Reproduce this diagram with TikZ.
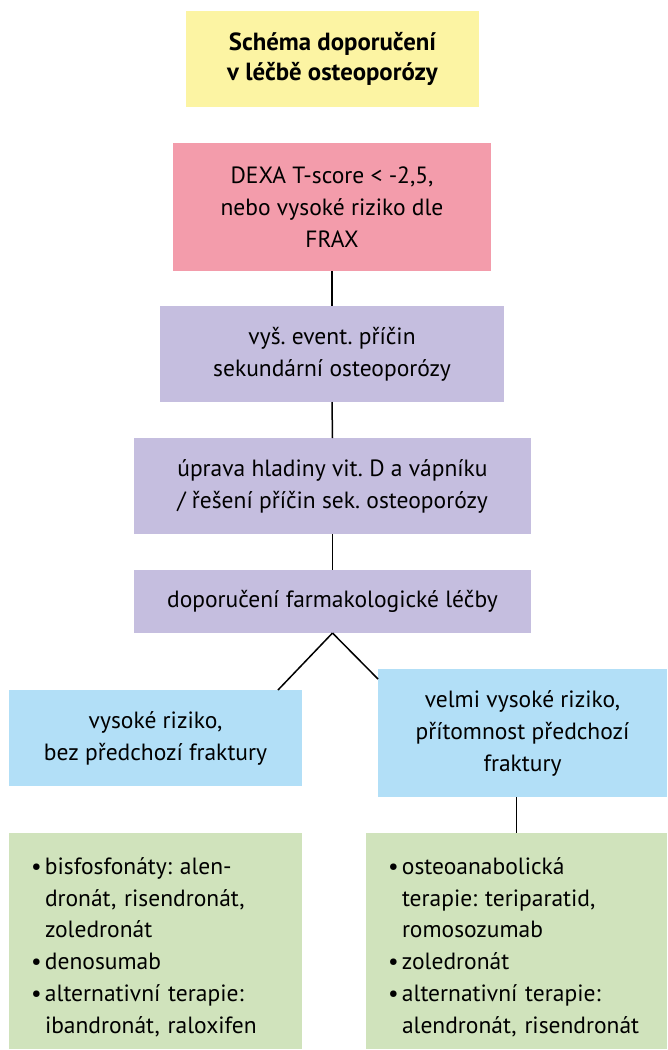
\documentclass[tikz,border=0pt]{standalone}
\usepackage{fontspec}
\setmainfont{PT Sans}
\frenchspacing
\usetikzlibrary{calc}
\definecolor{titlefill}{HTML}{FCF4A3}
\definecolor{dexafill}{HTML}{F39CAB}
\definecolor{stepfill}{HTML}{C5BEDF}
\definecolor{riskfill}{HTML}{B2DFF7}
\definecolor{drugfill}{HTML}{D0E3BC}
\newcommand{\bul}{\makebox[14pt][l]{\textbullet}}
\newcommand{\ind}{\hspace*{14pt}}
\begin{document}
\begin{tikzpicture}[x=1pt,y=-1pt]
\tikzset{
  every node/.style={inner sep=0pt, outer sep=0pt},
  box/.style={rectangle, align=center, font=\fontsize{23.5}{32}\selectfont},
  listbox/.style={rectangle, align=left, text width=#1, text height=29pt, font=\fontsize{23.5}{31.8}\selectfont},
  link/.style={black, line width=1.5pt}
}
\useasboundingbox (0,0) rectangle (667,1050);
\node [box, fill=titlefill, minimum width=293pt, minimum height=96pt, font=\fontsize{24.8}{30}\selectfont\bfseries] (title) at (332.5,59) {Schéma doporučení\\v léčbě osteoporózy};
\node [box, fill=dexafill, minimum width=318pt, minimum height=128pt] (dexa) at (332,207) {DEXA T-score < -2,5,\\nebo vysoké riziko dle\\FRAX};
\node [box, fill=stepfill, minimum width=344pt, minimum height=96pt] (cause) at (332,354) {vyš. event. příčin\\sekundární osteoporózy};
\node [box, fill=stepfill, minimum width=397pt, minimum height=96pt] (fix) at (332.5,486) {úprava hladiny vit. D a vápníku\\/ řešení příčin sek. osteoporózy};
\node [box, fill=stepfill, minimum width=397pt, minimum height=63pt] (pharm) at (332.5,601.5) {doporučení farmakologické léčby};
\node [box, fill=riskfill, minimum width=293pt, minimum height=96pt] (high) at (155.5,738) {vysoké riziko,\\bez předchozí fraktury};
\node [box, fill=riskfill, minimum width=289pt, minimum height=128pt] (vhigh) at (522.5,733) {velmi vysoké riziko,\\přítomnost předchozí\\fraktury};
\node [listbox=249pt, fill=drugfill, minimum height=216pt, inner xsep=22pt] (drugsl) at (155.5,941) {\bul bisfosfonáty: alen-\\\ind dronát, risendronát,\\\ind zoledronát\\\bul denosumab\\\bul alternativní terapie:\\\ind ibandronát, raloxifen};
\node [listbox=257pt, fill=drugfill, minimum height=216pt, inner xsep=22pt] (drugsr) at (516.5,941) {\bul osteoanabolická\\\ind terapie: teriparatid,\\\ind romosozumab\\\bul zoledronát\\\bul alternativní terapie:\\\ind alendronát, risendronát};
\draw [link] (dexa.south) -- (cause.north);
\draw [link] (cause.south) -- (fix.north);
\draw [link] (fix.south) -- (pharm.north);
\draw [link] (pharm.south) -- ($(high.north east)+(-24,0)$);
\draw [link] (pharm.south) -- ($(vhigh.north west)+(0,10)$);
\draw [link] ($(high.south)+(1.5,0)$) -- ($(high.south)+(1.5,0)$ |- drugsl.north);
\draw [link] (drugsr.north |- vhigh.south) -- (drugsr.north);
\end{tikzpicture}
\end{document}
